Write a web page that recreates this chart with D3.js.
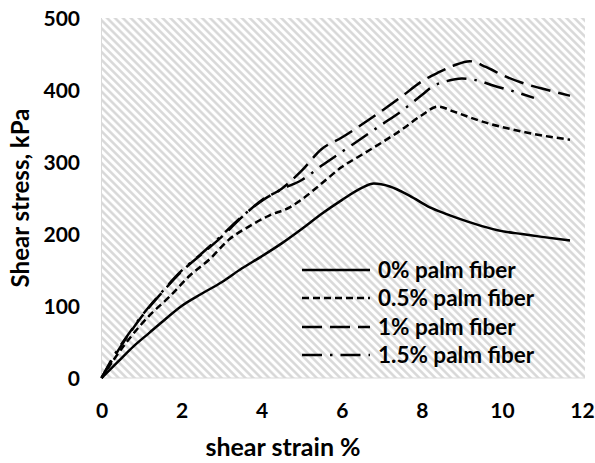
<!DOCTYPE html>
<html>
<head>
<meta charset="utf-8">
<script src="https://cdn.jsdelivr.net/npm/d3@7"></script>
<style>
  html, body { margin: 0; padding: 0; background: #fff; }
  svg { display: block; }
  text { font-family: Lato, "Open Sans", sans-serif; font-weight: bold; fill: #000; }
</style>
</head>
<body>
<svg id="chart" width="595" height="463"></svg>
<script>
// ---- data ----
const seriesNames = ["0% palm fiber", "0.5% palm fiber", "1% palm fiber", "1.5% palm fiber"];

const strain0 = [0, 0.4, 0.8, 1.2, 1.6, 2.0, 2.5, 3.0, 3.5, 4.0, 4.5, 5.0, 5.5, 6.0, 6.5, 6.8, 7.2, 7.7, 8.2, 8.6, 9.0, 9.5, 10.0, 10.5, 11.0, 11.7];
const stress0 = [0, 22, 44, 63, 82, 100, 117, 133, 152, 169, 187, 207, 228, 247, 264, 270, 266, 253, 237, 228, 220, 211, 204, 200, 196, 191];

const strain05 = [0, 0.3, 0.7, 1.2, 1.7, 2.2, 2.7, 3.2, 3.7, 4.2, 4.7, 5.0, 5.3, 5.6, 6.0, 6.5, 7.0, 7.5, 8.0, 8.4, 8.8, 9.2, 9.7, 10.2, 10.7, 11.2, 11.7];
const stress05 = [0, 25, 55, 87, 113, 142, 165, 193, 211, 226, 237, 248, 261, 275, 293, 310, 327, 345, 365, 377, 370, 362, 353, 346, 340, 335, 331];

const strain1 = [0, 0.3, 0.7, 1.0, 1.5, 2.0, 2.5, 3.0, 3.5, 4.0, 4.5, 5.0, 5.5, 6.0, 6.5, 7.0, 7.5, 8.0, 8.4, 8.8, 9.2, 9.6, 10.0, 10.5, 11.0, 11.7];
const stress1 = [0, 28, 62, 85, 118, 148, 172, 196, 223, 247, 263, 288, 318, 334, 352, 371, 391, 412, 424, 434, 440, 432, 421, 410, 402, 392];

const strain15 = [0, 0.3, 0.7, 1.0, 1.5, 2.0, 2.5, 3.0, 3.5, 4.0, 4.5, 5.0, 5.5, 6.0, 6.5, 7.0, 7.5, 8.0, 8.3, 8.6, 9.0, 9.4, 9.8, 10.3, 10.8];
const stress15 = [0, 30, 63, 86, 119, 149, 173, 198, 224, 246, 262, 275, 295, 314, 333, 352, 371, 393, 406, 412, 416, 413, 406, 398, 389];

const xTicks = [0, 2, 4, 6, 8, 10, 12];
const yTicks = [0, 100, 200, 300, 400, 500];
const xTitle = "shear strain %";
const yTitle = "Shear stress, kPa";

// ---- drawing ----
const svg = d3.select("#chart");
const x = d3.scaleLinear().domain([0, 12]).range([101.5, 582]);
const y = d3.scaleLinear().domain([0, 500]).range([378, 18]);

const defs = svg.append("defs");
const pat = defs.append("pattern")
  .attr("id", "hatch")
  .attr("patternUnits", "userSpaceOnUse")
  .attr("width", 5.6).attr("height", 5.6)
  .attr("patternTransform", "rotate(-45)");
pat.append("rect").attr("width", 5.6).attr("height", 5.6).attr("fill", "#ffffff");
pat.append("line").attr("x1", 1.4).attr("y1", 0).attr("x2", 1.4).attr("y2", 5.6)
  .attr("stroke", "#d6d6d6").attr("stroke-width", 2.4);

// plot area
svg.append("rect")
  .attr("x", x(0)).attr("y", y(500))
  .attr("width", 585 - x(0)).attr("height", y(0) - y(500))
  .attr("fill", "url(#hatch)");

// axis lines
svg.append("line").attr("x1", x(0)).attr("x2", 585).attr("y1", y(0)).attr("y2", y(0))
  .attr("stroke", "#d9d9d9").attr("stroke-width", 1);
svg.append("line").attr("x1", x(0)).attr("x2", x(0)).attr("y1", y(0)).attr("y2", y(500))
  .attr("stroke", "#d9d9d9").attr("stroke-width", 1);

// axes (labels only)
const xAxis = d3.axisBottom(x).tickValues(xTicks).tickSize(0).tickPadding(0).tickFormat(d3.format("d"));
const gx = svg.append("g").attr("transform", `translate(0,${y(0)})`).call(xAxis);
gx.select(".domain").remove();
gx.selectAll("text").attr("dy", null).attr("y", 40).style("font-size", "21px")
  .style("font-family", "Lato, sans-serif").style("font-weight", "bold");

const yAxis = d3.axisLeft(y).tickValues(yTicks).tickSize(0).tickPadding(0).tickFormat(d3.format("d"));
const gy = svg.append("g").attr("transform", `translate(80,0)`).call(yAxis);
gy.select(".domain").remove();
gy.selectAll("text").attr("dy", "0.35em").attr("x", 0).style("font-size", "21px")
  .style("font-family", "Lato, sans-serif").style("font-weight", "bold");

// axis titles
svg.append("text").attr("x", 283).attr("y", 456).attr("text-anchor", "middle")
  .style("font-size", "25px").text(xTitle);
svg.append("text").attr("transform", "translate(29,198) rotate(-90)").attr("text-anchor", "middle")
  .style("font-size", "24px").text(yTitle);

// series
const series = [
  { name: seriesNames[0], xs: strain0, ys: stress0, dash: null },
  { name: seriesNames[1], xs: strain05, ys: stress05, dash: "7,4" },
  { name: seriesNames[2], xs: strain1, ys: stress1, dash: "20,8" },
  { name: seriesNames[3], xs: strain15, ys: stress15, dash: "20,8,2.5,8" }
];

const line = d3.line().x(d => x(d[0])).y(d => y(d[1])).curve(d3.curveMonotoneX);

series.forEach(s => {
  const pts = s.xs.map((v, i) => [v, s.ys[i]]);
  svg.append("path")
    .datum(pts)
    .attr("d", line)
    .attr("fill", "none")
    .attr("stroke", "#000")
    .attr("stroke-width", 2.5)
    .attr("stroke-dasharray", s.dash);
});

// legend
const legend = svg.append("g");
const legY = [270, 298, 327, 355];
series.forEach((s, i) => {
  legend.append("line")
    .attr("x1", 302).attr("x2", 370)
    .attr("y1", legY[i]).attr("y2", legY[i])
    .attr("stroke", "#000").attr("stroke-width", 2.5)
    .attr("stroke-dasharray", s.dash);
  legend.append("text")
    .attr("x", 378).attr("y", legY[i]).attr("dy", "0.35em")
    .style("font-size", "22.5px")
    .text(s.name);
});
</script>
</body>
</html>
